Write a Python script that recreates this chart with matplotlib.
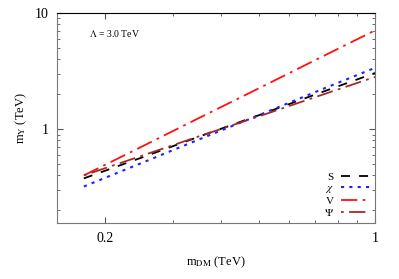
import matplotlib
matplotlib.use("Agg")
import matplotlib.pyplot as plt
from matplotlib.ticker import LogLocator, NullFormatter, FixedLocator, FixedFormatter

plt.rcParams["font.family"] = ["Liberation Serif", "DejaVu Serif"]
plt.rcParams["mathtext.fontset"] = "stix"

# dark matter mass (TeV)
m_dm = [0.176, 0.25, 0.35, 0.5, 0.7, 1.0]
# mediator mass m_Y (TeV) per spin
m_s = [0.377, 0.574, 0.863, 1.32, 1.99, 3.05]
m_chi = [0.321, 0.516, 0.817, 1.32, 2.09, 3.38]
m_v = [0.40, 0.714, 1.25, 2.25, 3.94, 7.1]
m_psi = [0.40, 0.594, 0.869, 1.29, 1.89, 2.82]

labels = ["S", r"$\chi$", "V", r"$\Psi$"]

fig = plt.figure(figsize=(3.99, 2.79), dpi=100)
ax = fig.add_axes([0.143, 0.2, 0.797, 0.753])

ax.plot(m_dm, m_s, color="black", lw=1.3, dashes=(5, 5), label=labels[0])
ax.plot(m_dm, m_chi, color="#1f1fff", lw=1.5, dashes=(1.5, 2.5), label=labels[1])
ax.plot(m_dm, m_v, color="#ff1010", lw=1.3, dashes=(9, 3, 1.5, 3), label=labels[2])
ax.plot(m_dm, m_psi, color="#a52a2a", lw=1.3, dashes=(1.5, 3, 9, 3), label=labels[3])

ax.set_xscale("log")
ax.set_yscale("log")
ax.set_xlim(0.15, 1.0)
ax.set_ylim(0.155, 10)

ax.xaxis.set_major_locator(FixedLocator([0.2, 1.0]))
ax.xaxis.set_major_formatter(FixedFormatter(["0.2", "1"]))
ax.xaxis.set_minor_locator(FixedLocator([0.3, 0.4, 0.5, 0.6, 0.7, 0.8, 0.9]))
ax.xaxis.set_minor_formatter(NullFormatter())
ax.yaxis.set_major_locator(FixedLocator([1.0, 10.0]))
ax.yaxis.set_major_formatter(FixedFormatter(["1", "10"]))
ax.yaxis.set_minor_locator(LogLocator(base=10, subs=range(2, 10)))
ax.yaxis.set_minor_formatter(NullFormatter())

ax.tick_params(which="both", direction="in", top=True, right=True, colors="#555555",
               labelcolor="black", labelsize=10, pad=6)
ax.tick_params(which="major", length=4)
ax.tick_params(which="minor", length=2)
for side in ["left", "bottom", "right"]:
    ax.spines[side].set_color("#777777")
ax.spines["top"].set_color("black")

ax.set_xlabel(r"m$_{\rm DM}$ (TeV)", fontsize=9, labelpad=7)
ax.set_ylabel(r"m$_{\rm Y}$ (TeV)", fontsize=9)

ax.text(0.1, 0.905, r"$\Lambda$ = 3.0 TeV", transform=ax.transAxes, fontsize=7,
        va="center")

leg = ax.legend(loc="lower right", markerfirst=False, frameon=False, fontsize=8,
                handlelength=2.6, labelspacing=0.1, borderaxespad=0.1,
                handletextpad=0.6)

fig.savefig("out.png", dpi=100)
